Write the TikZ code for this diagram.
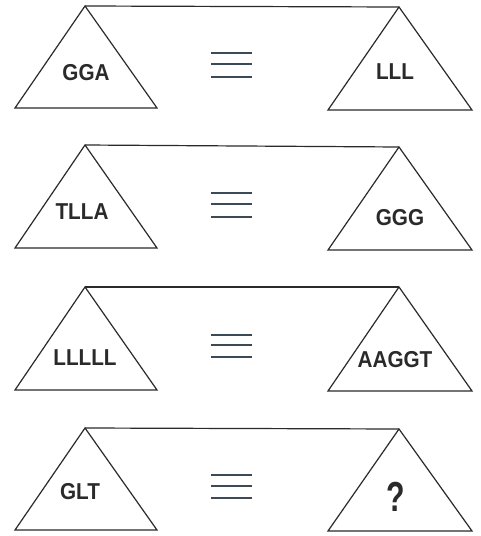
\documentclass[tikz,border=0pt]{standalone}
\usepackage{fontspec}
\setmainfont{Liberation Sans}
\definecolor{inkc}{HTML}{2A2A2A}
\definecolor{eqc}{HTML}{3C4A58}
\newcommand{\cond}[1]{\scalebox{0.9}[1]{#1}}
\begin{document}
\begin{tikzpicture}[x=1pt,y=-1pt,
  tri/.style={draw=inkc,line width=1.2pt,line join=miter},
  beam/.style={draw=inkc,line width=1.2pt},
  eqline/.style={draw=eqc,line width=2pt},
  lab/.style={font=\fontsize{23}{23}\selectfont\bfseries,text=inkc,inner sep=0pt}]
\useasboundingbox (0,0) rectangle (480,536);
\fill[white] (0,0) rectangle (480,536);
\foreach \i/\ay/\by/\ary/\bry/\ea/\eb/\ec in {
  1/6/108/7/110/53/64/77,
  2/145/248/147/250/193/204/217,
  3/287/390/287/391/335/345/357,
  4/428/530/429/531/475/486/498}{
  \coordinate (L\i) at (85,\ay);
  \coordinate (R\i) at (399,\ary);
  \draw[tri] (L\i) -- (157,\by) -- (15,\by) -- cycle;
  \draw[tri] (R\i) -- (472,\bry) -- (328,\bry) -- cycle;
  \draw[beam] (L\i) -- (R\i);
  \draw[eqline] (211,\ea) -- (252,\ea);
  \draw[eqline] (211,\eb) -- (252,\eb);
  \draw[eqline] (211,\ec) -- (252,\ec);
}
\node[lab] (t1l) at (86,73) {\cond{GGA}};
\node[lab] (t1r) at (395,72) {\cond{LLL}};
\node[lab] (t2l) at (82,212) {\cond{TLLA}};
\node[lab] (t2r) at (400,218) {\cond{GGG}};
\node[lab] (t3l) at (85,358) {\cond{LLLLL}};
\node[lab] (t3r) at (395,360) {\cond{AAGGT}};
\node[lab] (t4l) at (80,492) {\cond{GLT}};
\node[lab,font=\fontsize{42}{42}\selectfont\bfseries] (t4r) at (396,497) {\scalebox{0.72}[1]{?}};
\end{tikzpicture}
\end{document}
